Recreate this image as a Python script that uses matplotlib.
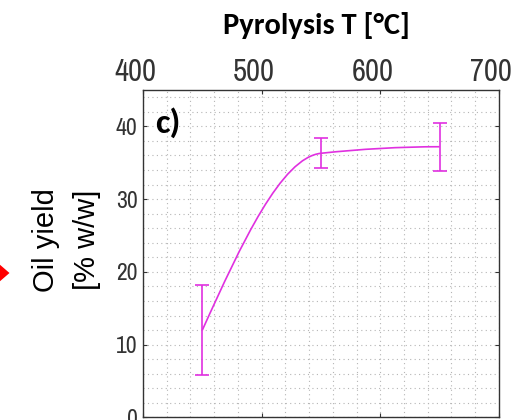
import numpy as np
import matplotlib
matplotlib.use('Agg')
import matplotlib.pyplot as plt
import matplotlib.transforms as mtransforms
from matplotlib.path import Path
from matplotlib.patches import PathPatch, Polygon
from matplotlib.ticker import MultipleLocator

# data
temps = [450, 550, 650]          # pyrolysis temperature [degC]
oil_yield = [12.0, 36.3, 37.2]   # oil yield [% w/w]
yield_err = [6.2, 2.05, 3.3]
x_ticks = [400, 500, 600, 700]
y_ticks = [0, 10, 20, 30, 40]

MAGENTA = '#e030e0'
TICK_FONT = ['Archivo Narrow', 'DejaVu Sans']


def pchip_slopes(x, y):
    # monotone cubic slopes (same as matlab pchip)
    x = np.asarray(x, float)
    y = np.asarray(y, float)
    h = np.diff(x)
    delta = np.diff(y) / h
    d = np.zeros_like(y)
    for k in range(1, len(x) - 1):
        if delta[k - 1] * delta[k] > 0:
            w1 = 2 * h[k] + h[k - 1]
            w2 = h[k] + 2 * h[k - 1]
            d[k] = (w1 + w2) / (w1 / delta[k - 1] + w2 / delta[k])

    def end(h0, h1, d0, d1):
        s = ((2 * h0 + h1) * d0 - h0 * d1) / (h0 + h1)
        if np.sign(s) != np.sign(d0):
            s = 0.0
        elif np.sign(d0) != np.sign(d1) and abs(s) > abs(3 * d0):
            s = 3 * d0
        return s
    d[0] = end(h[0], h[1], delta[0], delta[1])
    d[-1] = end(h[-1], h[-2], delta[-1], delta[-2])
    return d


def smooth_path(x, y):
    # cubic hermite segments written as bezier curves
    d = pchip_slopes(x, y)
    verts = [(x[0], y[0])]
    codes = [Path.MOVETO]
    for k in range(len(x) - 1):
        h = x[k + 1] - x[k]
        verts += [(x[k] + h / 3, y[k] + d[k] * h / 3),
                  (x[k + 1] - h / 3, y[k + 1] - d[k + 1] * h / 3),
                  (x[k + 1], y[k + 1])]
        codes += [Path.CURVE4] * 3
    return Path(verts, codes)


fig = plt.figure(figsize=(5.27, 4.20), dpi=100)
ax = fig.add_axes([0.2713, 0.006, 0.6755, 0.7798])

ax.add_patch(PathPatch(smooth_path(temps, oil_yield), fill=False,
                       edgecolor=MAGENTA, lw=1.2, zorder=3))
ax.errorbar(temps, oil_yield, yerr=yield_err, fmt='none', ecolor=MAGENTA,
            elinewidth=1.2, capsize=5, capthick=1.2, zorder=3)

ax.set_xlim(400, 700)
ax.set_ylim(0, 45)
ax.set_xticks(x_ticks)
ax.set_yticks(y_ticks)
ax.xaxis.set_minor_locator(MultipleLocator(20))
ax.yaxis.set_minor_locator(MultipleLocator(2))

ax.grid(which='both', color='#b5b5b5', ls=(0, (1, 3)), lw=0.8)
ax.set_axisbelow(True)

ax.tick_params(which='major', direction='in', length=3, width=0.8,
               color='#333333', top=True, right=True, bottom=True, left=True,
               labeltop=True, labelbottom=False)
ax.tick_params(which='minor', length=0)
ax.tick_params(axis='x', pad=3, labelsize=22, labelcolor='#333333')
ax.tick_params(axis='y', pad=4, labelsize=17, labelcolor='#333333')
for lab in ax.get_xticklabels(which='both') + ax.get_yticklabels():
    lab.set_family(TICK_FONT)

# top tick labels sit a bit left of their ticks in the original
shift = mtransforms.ScaledTranslation(-8 / 100, 0, fig.dpi_scale_trans)
for tick in ax.xaxis.get_major_ticks():
    tick.label2.set_family(TICK_FONT)
    tick.label2.set_transform(tick.label2.get_transform() + shift)

for sp in ax.spines.values():
    sp.set_color('#333333')
    sp.set_linewidth(1.0)

ax.text(0.035, 0.9, 'c)', transform=ax.transAxes, fontsize=25,
        fontweight='bold', family='Carlito', ha='left', va='center')

fig.text(0.60, 0.94, 'Pyrolysis T [°C]', fontsize=22, fontweight='bold',
         family='Carlito', ha='center', va='center')
fig.text(0.126, 0.428, 'Oil yield\n[% w/w]', rotation=90, fontsize=21,
         family=['Liberation Sans', 'DejaVu Sans'], ha='center', va='center',
         multialignment='center', linespacing=1.6)

# red arrow head at the left edge
fig.add_artist(Polygon([[-0.005, 0.375], [0.018, 0.350], [-0.005, 0.325]],
                       closed=True, transform=fig.transFigure,
                       facecolor='#ff0000', edgecolor='none'))

fig.savefig('out.png', dpi=100)
